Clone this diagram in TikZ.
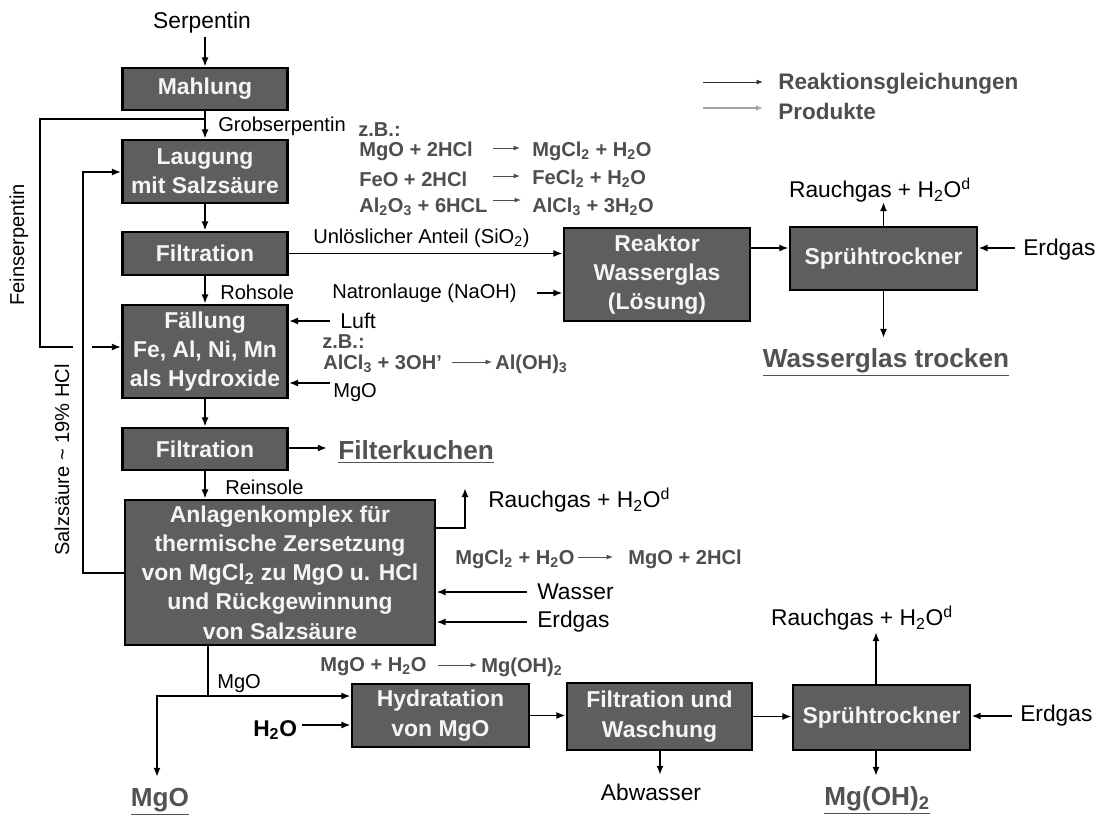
\documentclass[tikz,border=0pt]{standalone}
\usepackage{fontspec}
\setmainfont{Liberation Sans}
\usetikzlibrary{arrows.meta}

\definecolor{boxfill}{RGB}{94,94,94}
\definecolor{eqgray}{RGB}{78,78,78}
\definecolor{prodgray}{RGB}{82,82,82}
\definecolor{leggray}{RGB}{165,165,165}

\newcommand\fBox{\fontsize{16.3}{20.8}\selectfont\bfseries}
\newcommand\fLbl{\fontsize{14.3}{17}\selectfont}
\newcommand\fBig{\fontsize{16.2}{19}\selectfont}
\newcommand\fEq{\fontsize{14.3}{17}\selectfont\bfseries}
\newcommand\fLeg{\fontsize{16}{19}\selectfont\bfseries}
\newcommand\fProd{\fontsize{18.6}{22}\selectfont\bfseries}

\begin{document}
\begin{tikzpicture}[x=0.025cm,y=-0.025cm,
  box/.style={draw=black, line width=2pt, fill=boxfill, text=white!96!black,
              font=\fBox, align=center, inner sep=0pt},
  sz/.style 2 args={minimum width=#1*0.025cm, minimum height=#2*0.025cm},
  ln/.style={line width=1.4pt, draw=black},
  arr/.style={ln, -{Latex[length=6.5pt,width=5pt]}},
  eqarr/.style={line width=0.7pt, draw=eqgray, -{Latex[length=4.5pt,width=3.5pt]}},
  lbl/.style={font=\fLbl, inner sep=0pt, anchor=west},
  big/.style={font=\fBig, inner sep=0pt},
  eq/.style={font=\fEq, text=eqgray, inner sep=0pt, anchor=west},
  prod/.style={font=\fProd, text=prodgray, inner sep=0pt},
  leg/.style={font=\fLeg, text=eqgray, inner sep=0pt, anchor=west}]

\useasboundingbox[fill=white] (0,0) rectangle (1104,816);

% ---------- process boxes ----------
\node[box, sz={165}{42}] (mahl)  at (205,89)    {Mahlung};
\node[box, sz={165}{63}] (laug)  at (205,171.5) {Laugung\\mit Salzsäure};
\node[box, sz={165}{43}] (filt1) at (205,253.5) {Filtration};
\node[box, sz={165}{93}] (fall)  at (205,351.5) {Fällung\\Fe, Al, Ni, Mn\\als Hydroxide};
\node[box, sz={165}{42}] (filt2) at (205,449)   {Filtration};
\node[box, sz={310}{145}] (anl)  at (280,572.5)
  {Anlagenkomplex für\\thermische Zersetzung\\von MgCl\textsubscript{2} zu MgO u. HCl\\und Rückgewinnung\\von Salzsäure};
\node[box, sz={186}{93}] (reak)  at (657,274.5) {Reaktor\\Wasserglas\\(Lösung)};
\node[box, sz={187}{63}] (spr1)  at (883.5,258.5) {Sprühtrockner};
\node[box, sz={177}{63}] (hyd)   at (440.5,715.5) {Hydratation\\von MgO};
\node[box, sz={185}{67}] (filw)  at (659.5,716.5) {Filtration und\\Waschung};
\node[box, sz={177}{65}] (spr2)  at (881.5,717.5) {Sprühtrockner};

% ---------- plain labels ----------
\node[big] (serp) at (202,23) {Serpentin};
\node[lbl] (grob) at (218,126) {Grobserpentin};
\node[lbl] (sio)  at (313,238) {Unlöslicher Anteil (SiO\textsubscript{2})};
\node[lbl] (natr) at (332,293) {Natronlauge (NaOH)};
\node[lbl] (roh)  at (220,292) {Rohsole};
\node[lbl, font=\fontsize{15.2}{17}\selectfont] (luft) at (340,321) {Luft};
\node[lbl] (mgoin) at (333,393) {MgO};
\node[lbl] (rein) at (225,487) {Reinsole};
\node[big, anchor=west] (rgA) at (488,500) {Rauchgas + H\textsubscript{2}O\textsuperscript{d}};
\node[big, anchor=west] (wass) at (537,592) {Wasser};
\node[big, anchor=west] (erdA) at (537,622) {Erdgas};
\node[lbl] (mgolbl) at (217,684) {MgO};
\node[big, font=\fBig\bfseries, anchor=west] (h2o) at (253,730) {H\textsubscript{2}O};
\node[big] (abw) at (651,792) {Abwasser};
\node[big] (rg1) at (880,190) {Rauchgas + H\textsubscript{2}O\textsuperscript{d}};
\node[big, anchor=west] (erd1) at (1023,250) {Erdgas};
\node[big] (rg2) at (862,618) {Rauchgas + H\textsubscript{2}O\textsuperscript{d}};
\node[big, anchor=west] (erd2) at (1020,716) {Erdgas};
\node[font=\fLbl, inner sep=0pt, rotate=90] (fein) at (19,245) {Feinserpentin};
\node[font=\fLbl, inner sep=0pt, rotate=90] (hcl) at (62,460) {Salzsäure \textasciitilde{} 19\% HCl};

% ---------- products ----------
\node[prod, anchor=west] (fk) at (338,452) {\underline{Filterkuchen}};
\node[prod] (wgt) at (886,362) {\underline{Wasserglas trocken}};
\node[prod] (mgoP) at (160,802) {\underline{MgO}};
\node[prod] (mgoh) at (877,800) {\underline{Mg(OH)\textsubscript{2}}};

% ---------- reaction equations ----------
\node[eq] (zb1) at (358,130) {z.B.:};
\node[eq] (e1l) at (359,151) {MgO + 2HCl};
\node[eq] (e1r) at (532,151) {MgCl\textsubscript{2} + H\textsubscript{2}O};
\node[eq] (e2l) at (359,179) {FeO + 2HCl};
\node[eq] (e2r) at (532,179) {FeCl\textsubscript{2} + H\textsubscript{2}O};
\node[eq] (e3l) at (359,207) {Al\textsubscript{2}O\textsubscript{3} + 6HCL};
\node[eq] (e3r) at (532,207) {AlCl\textsubscript{3} + 3H\textsubscript{2}O};
\draw[eqarr] (493,148) -- (520,148);
\draw[eqarr] (493,176) -- (520,176);
\draw[eqarr] (493,200) -- (521,200);

\node[eq] (zb2) at (322,342) {z.B.:};
\node[eq] (e4l) at (323,364) {AlCl\textsubscript{3} + 3OH'};
\node[eq] (e4r) at (495,364) {Al(OH)\textsubscript{3}};
\draw[eqarr] (452,362) -- (492,362);

\node[eq] (e5l) at (455,559) {MgCl\textsubscript{2} + H\textsubscript{2}O};
\node[eq] (e5r) at (628,559) {MgO + 2HCl};
\draw[eqarr] (578,557) -- (613,557);

\node[eq] (e6l) at (320,667) {MgO + H\textsubscript{2}O};
\node[eq] (e6r) at (481,667) {Mg(OH)\textsubscript{2}};
\draw[eqarr] (438,665) -- (477,665);

% ---------- legend ----------
\node[leg] (legR) at (778,84) {Reaktionsgleichungen};
\node[leg] (legP) at (778,111) {Produkte};
\draw[eqarr, draw=black!80] (703,82) -- (763,82);
\draw[line width=1.6pt, draw=leggray, -{Latex[length=5pt,width=4pt]}] (703,108) -- (763,108);

% ---------- main column ----------
\coordinate (serpA) at (205,37);
\draw[arr] (serpA) -- (mahl.north);
\draw[arr] (mahl) -- (laug);
\draw[arr] (laug) -- (filt1);
\draw[arr] (filt1) -- (fall);
\draw[arr] (fall) -- (filt2);
\draw[arr] (filt2) -- (anl.north -| filt2.south);

% fine fraction led back to the precipitation stage
\coordinate (grobB) at (205,119);
\coordinate (fsL)   at (40,347);
\coordinate (fsG1)  at (73,347);
\coordinate (fsG2)  at (92,347);
\draw[ln] (grobB) -| (fsL) -- (fsG1);
\draw[arr] (fsG2) -- (fall.west |- fsG2);

% recovered hydrochloric acid back to leaching
\coordinate (hclB) at (83,573);
\coordinate (hclT) at (83,172);
\draw[arr] (anl.west |- hclB) -- (hclB) -- (hclT) -- (laug.west |- hclT);

% insoluble residue to water glass reactor
\draw[arr] (filt1.east) -- (reak.west |- filt1.east);
\coordinate (natrA) at (537,293);
\draw[arr] (natrA) -- (reak.west |- natrA);

% water glass line
\coordinate (r1) at (770,248);
\draw[arr] (reak.east |- r1) -- (spr1.west |- r1);
\coordinate (erd1A) at (1015,248);
\draw[arr] (erd1A) -- (spr1.east |- erd1A);
\coordinate (rg1A) at (883.5,202);
\draw[arr] (spr1.north) -- (rg1A);
\coordinate (wgtA) at (883.5,338);
\draw[arr] (spr1.south) -- (wgtA);

% precipitation inputs
\coordinate (luftA) at (330,321);
\draw[arr] (luftA) -- (fall.east |- luftA);
\coordinate (mgoA) at (330,383);
\draw[arr] (mgoA) -- (fall.east |- mgoA);

% filter cake
\coordinate (fkA) at (327,448);
\draw[arr] (filt2.east |- fkA) -- (fkA);

% thermal decomposition plant
\coordinate (rgK) at (465,528);
\coordinate (rgT) at (465,488);
\draw[arr] (anl.east |- rgK) -- (rgK) -- (rgT);
\coordinate (wasA) at (527,592);
\draw[arr] (wasA) -- (anl.east |- wasA);
\coordinate (erdAA) at (527,622);
\draw[arr] (erdAA) -- (anl.east |- erdAA);

% magnesia outlet
\coordinate (mgoJ) at (208,696);
\coordinate (mgoL) at (157,696);
\coordinate (mgoD) at (157,777);
\draw[arr] (anl.south -| mgoJ) -- (mgoJ) -- (hyd.west |- mgoJ);
\draw[arr] (mgoJ) -- (mgoL) -- (mgoD);

% hydroxide line
\coordinate (h2oA) at (302,725);
\draw[arr] (h2oA) -- (hyd.west |- h2oA);
\draw[arr] (hyd.east) -- (filw.west |- hyd.east);
\draw[arr] (filw.east) -- (spr2.west |- filw.east);
\coordinate (abA) at (660,775);
\draw[arr] (filw.south -| abA) -- (abA);
\coordinate (rg2A) at (876,632);
\draw[arr] (spr2.north -| rg2A) -- (rg2A);
\coordinate (mgA) at (876,776);
\draw[arr] (spr2.south -| mgA) -- (mgA);
\coordinate (erd2A) at (1012,716);
\draw[arr] (erd2A) -- (spr2.east |- erd2A);

\end{tikzpicture}
\end{document}
